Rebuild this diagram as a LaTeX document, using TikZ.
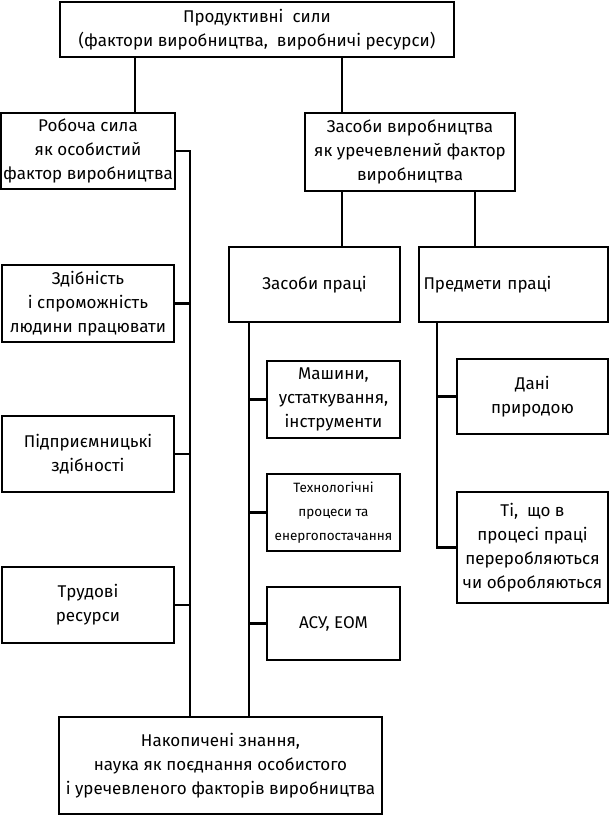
\documentclass[tikz,border=0pt]{standalone}
\usepackage{fontspec}
\setmainfont{Fira Sans}
\usepackage{tikz}

\begin{document}
\begin{tikzpicture}[x=1pt,y=-1pt,line width=2.2pt,
        box/.style={draw,line width=2.2pt,align=center,inner sep=2pt,
                font=\fontsize{17}{24}\selectfont},
        smallbox/.style={box,font=\fontsize{13.5}{24}\selectfont}]
        \useasboundingbox (0,0) rectangle (609,815);

        \node[box,minimum width=394,minimum height=55] (prod) at (257,29.5)
                {Продуктивні\ \ сили\\(фактори виробництва,\ \ виробничі ресурси)};

        \node[box,minimum width=172,minimum height=76] (robocha) at (88,151)
                {Робоча сила\\як особистий\\фактор виробництва};
        \node[box,minimum width=210,minimum height=78] (zasvyr) at (410,152)
                {Засоби виробництва\\як уречевлений фактор\\виробництва};

        \node[box,minimum width=171,minimum height=75] (zaspr) at (314.5,284.5) {Засоби праці};
        \node[box,minimum width=189,minimum height=75,text width=180,align=left] (predm) at (513.5,284.5)
                {Предмети праці};

        \node[box,minimum width=172,minimum height=77] (zdib) at (88,303.5)
                {Здібність\\і спроможність\\людини працювати};
        \node[box,minimum width=172,minimum height=76] (pidpr) at (88,454)
                {Підприємницькі\\здібності};
        \node[box,minimum width=172,minimum height=76] (trud) at (88,605)
                {Трудові\\ресурси};

        \node[box,minimum width=133,minimum height=77] (mash) at (333.5,399.5)
                {Машини,\\устаткування,\\інструменти};
        \node[smallbox,minimum width=133,minimum height=77] (tekh) at (333.5,512.5)
                {Технологічні\\процеси та\\енергопостачання};
        \node[box,minimum width=133,minimum height=73] (asu) at (333.5,623.5) {АСУ, ЕОМ};

        \node[box,minimum width=151,minimum height=75] (dani) at (532.5,396.5)
                {Дані\\природою};
        \node[box,minimum width=151,minimum height=111] (ti) at (532.5,547.5)
                {Ті,\ \ що в\\процесі праці\\переробляються\\чи обробляються};

        \node[box,minimum width=323,minimum height=97] (nakop) at (220.5,765.5)
                {Накопичені знання,\\наука як поєднання особистого\\і уречевленого факторів виробництва};

        \coordinate (ltap) at (135,0);
        \coordinate (mtap) at (342,0);
        \coordinate (rtap) at (475,0);
        \coordinate (lbus) at (190,0);
        \coordinate (mbus) at (249,0);
        \coordinate (rbus) at (437,0);

        \draw[-] (prod.south -| ltap) -- (robocha.north -| ltap);
        \draw[-] (prod.south -| mtap) -- (zasvyr.north -| mtap);
        \draw[-] (zasvyr.south -| mtap) -- (zaspr.north -| mtap);
        \draw[-] (zasvyr.south -| rtap) -- (predm.north -| rtap);

        \draw[-] (robocha.east) -| (nakop.north -| lbus);
        \draw[-] (zdib.east) -- (zdib.east -| lbus);
        \draw[-] (pidpr.east) -- (pidpr.east -| lbus);
        \draw[-] (trud.east) -- (trud.east -| lbus);

        \draw[-] (zaspr.south -| mbus) -- (nakop.north -| mbus);
        \draw[-] (mash.west) -- (mash.west -| mbus);
        \draw[-] (tekh.west) -- (tekh.west -| mbus);
        \draw[-] (asu.west) -- (asu.west -| mbus);

        \draw[-] (predm.south -| rbus) |- (ti.west);
        \draw[-] (dani.west) -- (dani.west -| rbus);
    \end{tikzpicture}
\end{document}
